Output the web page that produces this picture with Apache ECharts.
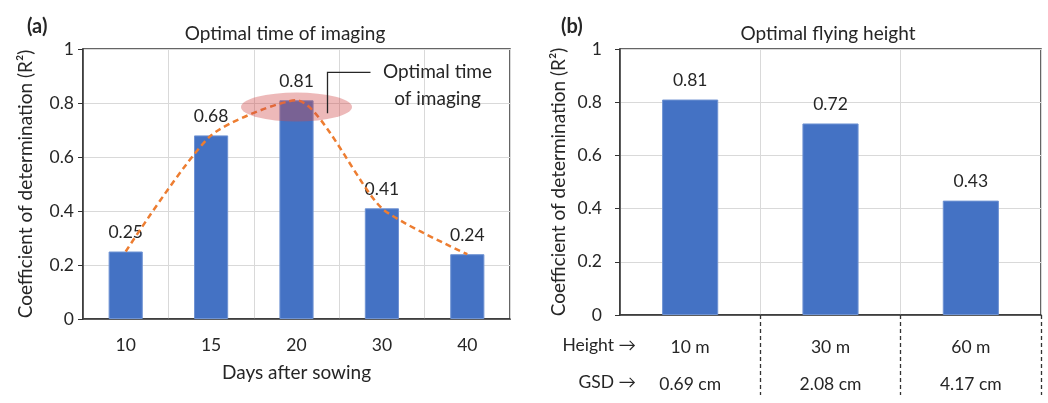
<!DOCTYPE html>
<html>
<head>
<meta charset="utf-8">
<script src="https://cdn.jsdelivr.net/npm/echarts@6/dist/echarts.min.js"></script>
<style>
html,body{margin:0;padding:0;background:#fff;}
#c{width:1048px;height:403px;}
</style>
</head>
<body>
<div id="c"></div>
<script>
// Panel (a)
const daysCategories = ['10', '15', '20', '30', '40'];
const daysR2 = [0.25, 0.68, 0.81, 0.41, 0.24];
// Panel (b)
const heightCategories = ['10 m', '30 m', '60 m'];
const gsdLabels = ['0.69 cm', '2.08 cm', '4.17 cm'];
const heightR2 = [0.81, 0.72, 0.43];
const yTicks = [0, 0.2, 0.4, 0.6, 0.8, 1];
const optimalIndex = 2;

const FONT = 'Lato';
const TXT = '#262626';
const BLUE = '#4472C4';
const TICK_FS = 17.5;
const NAME_FS = 19;

const chart = echarts.init(document.getElementById('c'), null, {renderer: 'canvas'});

const G1 = {left: 83, top: 49, width: 427, height: 270};
const G2 = {left: 620, top: 49, width: 421, height: 275};

function yAxisCfg(gridIndex, margin, nameGap) {
  return {
    type: 'value', gridIndex: gridIndex, min: 0, max: 1, interval: 0.2,
    name: 'Coefficient of determination (R²)', nameLocation: 'middle', nameGap: nameGap,
    nameTextStyle: {fontFamily: FONT, fontSize: NAME_FS, color: TXT},
    axisLine: {show: true, lineStyle: {color: '#333', width: 1.5}},
    axisTick: {show: true, length: 5, lineStyle: {color: '#333'}},
    axisLabel: {fontFamily: FONT, fontSize: TICK_FS, color: TXT, margin: margin,
      formatter: function (v) { return String(Math.round(v * 10) / 10); }},
    splitLine: {show: true, lineStyle: {color: '#d9d9d9', width: 1}}
  };
}

const option = {
  animation: false,
  backgroundColor: '#fff',
  textStyle: {fontFamily: FONT},
  title: [
    {text: 'Optimal time of imaging', left: 280, top: 19, textAlign: 'center',
      textStyle: {fontFamily: FONT, fontSize: NAME_FS, fontWeight: 'normal', color: TXT}},
    {text: 'Optimal flying height', left: 823, top: 19, textAlign: 'center',
      textStyle: {fontFamily: FONT, fontSize: NAME_FS, fontWeight: 'normal', color: TXT}},
    {text: '(a)', left: 22, top: 12,
      textStyle: {fontFamily: FONT, fontSize: 20, fontWeight: 'bold', color: TXT}},
    {text: '(b)', left: 556, top: 12,
      textStyle: {fontFamily: FONT, fontSize: 20, fontWeight: 'bold', color: TXT}}
  ],
  grid: [
    Object.assign({show: true, borderColor: '#333', borderWidth: 1.5, containLabel: false}, G1),
    Object.assign({show: true, borderColor: '#333', borderWidth: 1.5, containLabel: false}, G2)
  ],
  xAxis: [
    {
      type: 'category', gridIndex: 0, data: daysCategories,
      name: 'Days after sowing', nameLocation: 'middle', nameGap: 44,
      nameTextStyle: {fontFamily: FONT, fontSize: NAME_FS, color: TXT},
      axisLine: {show: true, lineStyle: {color: '#333', width: 1.5}},
      axisTick: {show: false},
      axisLabel: {fontFamily: FONT, fontSize: TICK_FS, color: TXT, margin: 17},
      splitLine: {show: true, lineStyle: {color: '#d9d9d9', width: 1}}
    },
    {
      type: 'category', gridIndex: 1, data: heightCategories,
      axisLine: {show: true, lineStyle: {color: '#333', width: 1.5}},
      axisTick: {show: true, length: 80, interval: function (idx) { return idx !== 0; },
        lineStyle: {color: '#333', width: 1.3, type: [4, 3]}},
      axisLabel: {fontFamily: FONT, fontSize: TICK_FS, color: TXT, margin: 14, lineHeight: 37,
        formatter: function (v, i) { return v + '\n' + gsdLabels[i]; }},
      splitLine: {show: true, lineStyle: {color: '#d9d9d9', width: 1}}
    }
  ],
  yAxis: [yAxisCfg(0, 9, 48), yAxisCfg(1, 18, 52)],
  series: [
    {
      type: 'bar', xAxisIndex: 0, yAxisIndex: 0, data: daysR2, barWidth: '40%',
      itemStyle: {color: BLUE, borderColor: '#6f93d3', borderWidth: 1},
      label: {show: true, position: 'top', distance: 10, fontFamily: FONT, fontSize: TICK_FS, color: TXT,
        formatter: function (p) { return p.value.toFixed(2); }},
      z: 2
    },
    {
      type: 'line', xAxisIndex: 0, yAxisIndex: 0, data: daysR2, smooth: 0.22,
      symbol: 'none', lineStyle: {color: '#ED7D31', width: 2.5, type: [6, 4]}, z: 3
    },
    {
      type: 'scatter', xAxisIndex: 0, yAxisIndex: 0,
      data: [[optimalIndex, 0.785]], symbol: 'circle', symbolSize: [111, 29],
      itemStyle: {color: 'rgba(208, 72, 72, 0.48)'}, silent: true, z: 4
    },
    {
      type: 'bar', xAxisIndex: 1, yAxisIndex: 1, data: heightR2, barWidth: '40%',
      itemStyle: {color: BLUE, borderColor: '#6f93d3', borderWidth: 1},
      label: {show: true, position: 'top', distance: 10, fontFamily: FONT, fontSize: TICK_FS, color: TXT,
        formatter: function (p) { return p.value.toFixed(2); }},
      z: 2
    }
  ]
};
chart.setOption(option);

// annotations anchored on the optimal point and panel (b) grid
const pt = chart.convertToPixel({xAxisIndex: 0, yAxisIndex: 0}, [optimalIndex, daysR2[optimalIndex]]);
const cx = pt[0] + 31, topY = pt[1] - 28;
const axisB = chart.convertToPixel({yAxisIndex: 1}, 0);
chart.setOption({
  graphic: [
    {type: 'polyline', shape: {points: [[cx, pt[1] + 13], [cx, topY], [cx + 43, topY]]},
      style: {stroke: '#262626', lineWidth: 1.3, fill: null}, z: 10},
    {type: 'text', x: pt[0] + 141, y: topY - 14,
      style: {text: 'Optimal time\nof imaging', fontFamily: FONT, fontSize: NAME_FS, fill: TXT,
        align: 'center', verticalAlign: 'top', lineHeight: 27}, z: 10},
    {type: 'text', x: G2.left + 16, y: axisB + 30,
      style: {text: 'Height →', fontFamily: FONT, fontSize: TICK_FS, fill: TXT, align: 'right', verticalAlign: 'middle'}},
    {type: 'text', x: G2.left + 16, y: axisB + 67,
      style: {text: 'GSD →', fontFamily: FONT, fontSize: TICK_FS, fill: TXT, align: 'right', verticalAlign: 'middle'}}
  ]
});
</script>
</body>
</html>
